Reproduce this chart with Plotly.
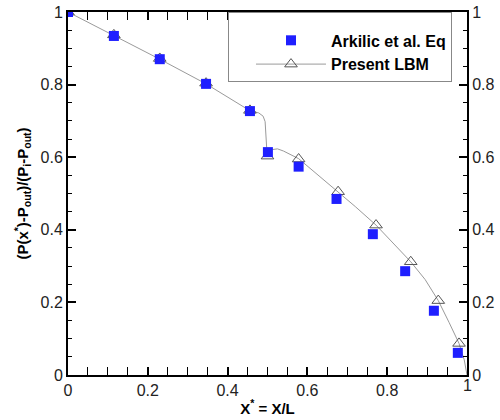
import plotly.graph_objects as go

# Arkilic et al. analytical points
eq_x = [0.0, 0.115, 0.23, 0.346, 0.456, 0.501, 0.578, 0.673, 0.764, 0.845, 0.917, 0.977]
eq_y = [1.0, 0.934, 0.870, 0.802, 0.727, 0.614, 0.574, 0.485, 0.388, 0.286, 0.177, 0.061]

# Present LBM markers
lbm_x = [0.0, 0.115, 0.23, 0.346, 0.456, 0.5, 0.578, 0.677, 0.772, 0.859, 0.928, 0.98]
lbm_y = [1.0, 0.937, 0.872, 0.804, 0.729, 0.603, 0.595, 0.505, 0.413, 0.312, 0.205, 0.087]

# Present LBM curve
curve_x = [0.0, 0.115, 0.23, 0.346, 0.456, 0.478, 0.489, 0.494, 0.496, 0.498, 0.503,
           0.512, 0.525, 0.540, 0.578, 0.62, 0.677, 0.72, 0.772, 0.81, 0.859, 0.895,
           0.928, 0.955, 0.98, 0.993, 1.0]
curve_y = [1.0, 0.935, 0.87, 0.802, 0.728, 0.722, 0.713, 0.698, 0.66, 0.625, 0.613,
           0.621, 0.623, 0.617, 0.596, 0.557, 0.505, 0.464, 0.413, 0.370, 0.312, 0.263,
           0.205, 0.145, 0.087, 0.042, 0.0]

font = "Arial, Liberation Sans, sans-serif"

fig = go.Figure()

fig.add_trace(go.Scatter(
    x=curve_x, y=curve_y, mode="lines",
    line=dict(color="#9a9a9a", width=1),
    showlegend=False, hoverinfo="skip"))

fig.add_trace(go.Scatter(
    x=lbm_x, y=lbm_y, mode="markers",
    marker=dict(symbol="triangle-up-open", size=11, color="#555555", line=dict(width=1)),
    showlegend=False))

# legend-only entry for the line + triangle
fig.add_trace(go.Scatter(
    x=[None], y=[None], mode="lines+markers", name="<b>Present LBM</b>",
    line=dict(color="#9a9a9a", width=1),
    marker=dict(symbol="triangle-up-open", size=11, color="#555555", line=dict(width=1)),
    legendrank=2))

fig.add_trace(go.Scatter(
    x=eq_x, y=eq_y, mode="markers", name="<b>Arkilic et al. Eq</b>",
    marker=dict(symbol="square", size=10, color="#1f1fff"),
    yaxis="y2", legendrank=1))

tick_font = dict(family=font, size=16, color="#222222")
ticks = [0, 0.2, 0.4, 0.6, 0.8, 1]
tick_txt = ["0", "0.2", "0.4", "0.6", "0.8", "1"]


def minor():
    return dict(dtick=0.05, ticks="inside", ticklen=4, tickwidth=1, tickcolor="black")


fig.update_layout(
    width=500, height=420,
    margin=dict(l=68, r=33, t=12, b=45, autoexpand=False),
    paper_bgcolor="white", plot_bgcolor="white",
    font=dict(family=font),
    xaxis=dict(
        range=[0, 1], tickmode="array", tickvals=ticks[:-1], ticktext=tick_txt[:-1],
        ticks="inside", ticklen=8, tickwidth=2, tickcolor="black", minor=minor(),
        showline=True, linecolor="black", linewidth=2, mirror="allticks",
        showgrid=False, zeroline=False, tickfont=tick_font, automargin=False,
        ticklabeloverflow="allow",
        title=dict(text="<b>X<sup>*</sup> = X/L</b>", font=dict(family=font, size=15, color="black"),
                   standoff=5),
    ),
    yaxis=dict(
        range=[0, 1], tickmode="array", tickvals=ticks, ticktext=tick_txt,
        ticks="inside", ticklen=8, tickwidth=2, tickcolor="black", minor=minor(),
        showline=True, linecolor="black", linewidth=2, mirror=True,
        showgrid=False, zeroline=False, tickfont=tick_font, automargin=False,
        ticklabeloverflow="allow",
        title=dict(text="<b>(P(x<sup>*</sup>)-P<sub>out</sub>)/(P<sub>i</sub>-P<sub>out</sub>)</b>",
                   font=dict(family=font, size=15, color="black"), standoff=8),
    ),
    yaxis2=dict(
        range=[0, 1], overlaying="y", side="right",
        tickmode="array", tickvals=ticks, ticktext=tick_txt,
        ticks="inside", ticklen=8, tickwidth=2, tickcolor="black", minor=minor(),
        showline=True, linecolor="black", linewidth=2,
        showgrid=False, zeroline=False, tickfont=tick_font, automargin=False,
        ticklabeloverflow="allow",
    ),
    legend=dict(
        x=0.401, y=1.0, xanchor="left", yanchor="top",
        bgcolor="white", bordercolor="#888888", borderwidth=1,
        font=dict(family=font, size=16, color="black"),
        title=dict(text=" ", font=dict(size=8)),
        itemwidth=70, indentation=22, tracegroupgap=0,
    ),
)

# last x tick label gets dropped at the axis end, so write it directly below the corner
fig.add_annotation(x=1, y=-0.03, xref="paper", yref="paper", text=tick_txt[-1],
                   showarrow=False, xanchor="center", yanchor="middle",
                   font=dict(family=font, size=16, color="#222222"))

# drop the default 8px page margin so the figure sits at the window's corner
fig.write_html("out.html", config={"displayModeBar": False},
               post_script="document.body.style.margin='0';")
